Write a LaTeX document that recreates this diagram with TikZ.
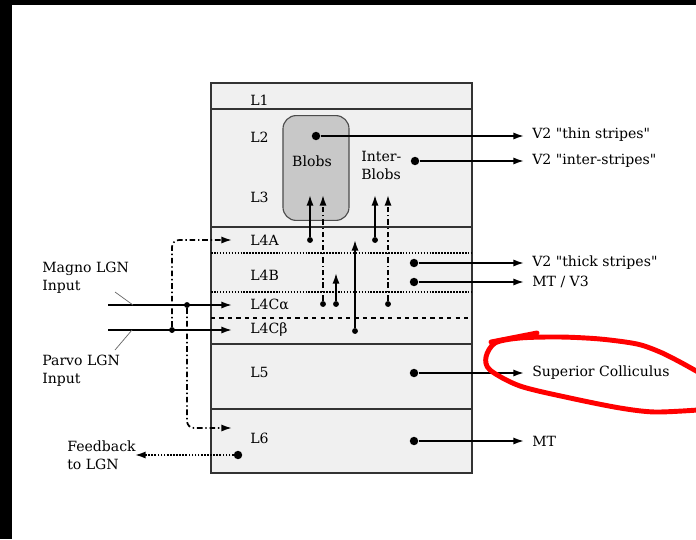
\documentclass[tikz,border=0pt]{standalone}
\usepackage{fontspec}
\setmainfont{DejaVu Serif}
\usetikzlibrary{arrows.meta}
\definecolor{layerfill}{HTML}{F0F0F0}
\definecolor{blobfill}{HTML}{C8C8C8}
\begin{document}
\begin{tikzpicture}
  [x=0.025cm,y=-0.025cm,>={Latex[length=7.5pt,width=5pt]},
   every node/.style={font=\fontsize{10}{12.8}\selectfont},
   edge/.style={line width=1.2pt},
   dashdot/.style={line width=1.2pt,dash pattern=on 4pt off 2pt on 1pt off 2pt},
   dot/.style={circle,fill=black,inner sep=0pt,minimum size=6pt},
   sdot/.style={circle,fill=black,inner sep=0pt,minimum size=4.2pt},
   lay/.style={anchor=west,inner xsep=0.45cm,inner ysep=0pt},
   tgt/.style={anchor=west,inner xsep=0.2cm,inner ysep=0pt},
   blob/.style={draw=black!70,fill=blobfill,rounded corners=0.33cm,
     minimum width=1.65cm,minimum height=2.62cm,line width=0.8pt}]

  % background
  \fill[black] (0,0) rectangle (696,539);
  \fill[white] (12,5) rectangle (696,539);
  \useasboundingbox (0,0) rectangle (696,539);

  % layers
  \draw[fill=layerfill,line width=0.8pt,draw=black!80] (211,83) rectangle (472,473);
  \foreach \y in {109,227,344,409}
    \draw[line width=0.8pt,black!80] (211,\y) -- (472,\y);
  \draw[densely dotted,line width=1.1pt] (211,253) -- (472,253) (211,292) -- (472,292);
  \draw[dashed,line width=0.8pt] (211,318) -- (472,318);

  \node[blob] (blob) at (316,168) {};
  \node (blobs) at (312,161) {Blobs};
  \node[align=left,anchor=west,inner sep=0pt] (inter) at (361,165) {Inter-\\Blobs};

  \foreach \n/\t/\y in {l1/L1/100,l2/L2/137,l3/L3/197,l4a/L4A/240,l4b/L4B/275,
      l4ca/L4Cα/305,l4cb/L4Cβ/330,l5/L5/372,l6/L6/438}
    \node[lay] (\n) at (232,\y) {\t};

  % outputs
  \node[dot] (dl2) at (316,136) {};
  \node[dot] (dinter) at (415,161) {};
  \node[dot] (dl4b) at (414,263) {};
  \node[dot] (dmt) at (414,282) {};
  \node[dot] (dl5) at (414,373) {};
  \node[dot] (dl6) at (414,441) {};

  \node[tgt] (thin) at (524,135) {V2 \textquotedbl thin stripes\textquotedbl};
  \node[tgt] (istr) at (524,161) {V2 \textquotedbl inter-stripes\textquotedbl};
  \node[tgt] (thick) at (524,263) {V2 \textquotedbl thick stripes\textquotedbl};
  \node[tgt] (mtv3) at (524,282) {MT / V3};
  \node[tgt] (sc) at (524,373) {Superior Colliculus};
  \node[tgt] (mt) at (524,441) {MT};

  \foreach \src/\dst in {dl2/thin,dinter/istr,dl4b/thick,dmt/mtv3,dl5/sc,dl6/mt}
    \draw[->,edge] (\src) -- (\src -| \dst.west);

  % layer 4 paths
  \node[sdot] (s1) at (310,240) {};
  \node[sdot] (s2) at (375,240) {};
  \node[sdot] (s3) at (323,304) {};
  \node[sdot] (s4) at (388,304) {};
  \node[sdot] (s5) at (336,304) {};
  \node[sdot] (s6) at (355,331) {};
  \coordinate (t1) at (310,195);
  \coordinate (t2) at (375,195);
  \coordinate (t3) at (323,195);
  \coordinate (t4) at (388,195);
  \coordinate (t5) at (336,273);
  \coordinate (t6) at (355,240);

  \foreach \src/\dst in {s1/t1,s2/t2,s5/t5,s6/t6}
    \draw[->,edge] (\src) -- (\dst);
  \foreach \src/\dst in {s3/t3,s4/t4}
    \draw[->,dashdot] (\src) -- (\dst);

  % LGN inputs
  \coordinate (magno) at (108,305);
  \coordinate (parvo) at (108,330);
  \node[sdot] (jm) at (187,305) {};
  \node[sdot] (jp) at (172,330) {};
  \draw[->,edge] (magno) -- (l4ca.west);
  \draw[->,edge] (parvo) -- (l4cb.west);
  \coordinate (l6in) at (232,428);
  \draw[->,dashdot,rounded corners=5pt] (jp) |- (l4a.west);
  \draw[->,dashdot,rounded corners=5pt] (jm) |- (l6in);

  \node[align=left,anchor=west,inner sep=0pt] (magnotxt) at (42,278) {Magno LGN\\Input};
  \node[align=left,anchor=west,inner sep=0pt] (parvotxt) at (42,371) {Parvo LGN\\Input};
  \coordinate (mlead) at (115,292);
  \coordinate (plead) at (115,350);
  \draw[black!60,line width=0.5pt] (mlead) -- (133,305);
  \draw[black!60,line width=0.5pt] (plead) -- (132,330);

  % feedback
  \node[dot] (dfb) at (238,455) {};
  \node[align=left,anchor=west,inner sep=0pt] (fbtxt) at (67,455) {Feedback\\to LGN};
  \coordinate (fbend) at (135,455);
  \draw[->,densely dotted,edge] (dfb) -- (fbend);

  % hand drawn mark
  \draw[red,line width=3.5pt,line cap=round,line join=round] plot[smooth] coordinates
    {(698,372) (680,362) (660,352) (637,344) (600,339) (560,337) (520,338)
     (495,343) (486,357) (490,370) (520,386) (570,398) (620,408) (655,412) (698,410)};
  \draw[red,line width=3.5pt,line cap=round] (491,342) -- (537,333);

\end{tikzpicture}
\end{document}
